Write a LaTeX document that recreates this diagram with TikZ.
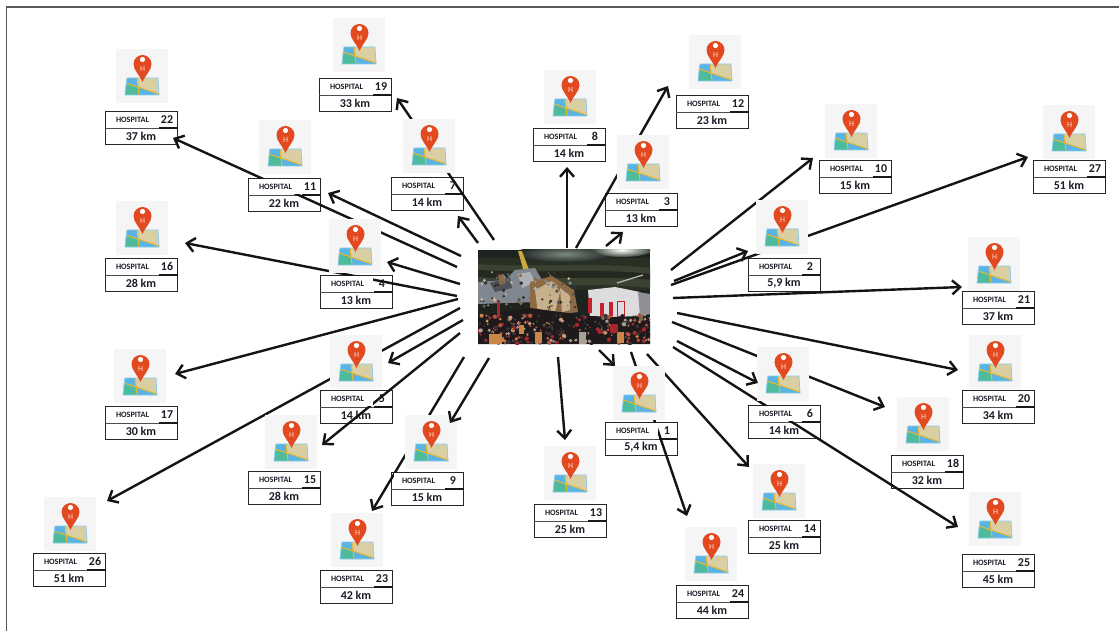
\documentclass[tikz,border=0pt]{standalone}
\usepackage{fontspec}
\setmainfont{Carlito}
\usetikzlibrary{arrows.meta}
\pgfdeclarelayer{cardlayer}
\pgfdeclarelayer{linklayer}
\pgfdeclarelayer{toplayer}
\pgfsetlayers{cardlayer,linklayer,main,toplayer}
\definecolor{iconbg}{HTML}{F5F5F5}
\definecolor{pinred}{HTML}{E2491F}
\definecolor{mapblue}{HTML}{58B4E4}
\definecolor{maptan}{HTML}{D9CFA3}
\definecolor{mapgreen}{HTML}{4DBB9C}
\definecolor{maproad}{HTML}{EDB62E}
\definecolor{ink}{HTML}{1C1C28}
\definecolor{skyA}{HTML}{1E2320}
\definecolor{skyB}{HTML}{39443A}
\definecolor{skyC}{HTML}{7C8A80}
\definecolor{hillA}{HTML}{2A2F24}
\definecolor{hillB}{HTML}{3C4230}
\definecolor{hillC}{HTML}{24281F}
\definecolor{wreckA}{HTML}{7F8791}
\definecolor{wreckB}{HTML}{4E5257}
\definecolor{wreckC}{HTML}{AEB2B4}
\definecolor{wreckD}{HTML}{8B6A45}
\definecolor{wreckE}{HTML}{C7B08C}
\definecolor{wreckF}{HTML}{3A2F26}
\definecolor{fuse}{HTML}{DCDBDD}
\definecolor{fuseshade}{HTML}{8E9094}
\definecolor{fusered}{HTML}{C3242C}
\definecolor{tailyellow}{HTML}{C9A93A}
\pgfmathdeclarerandomlist{crowdcol}{{crowdA}{crowdB}{crowdC}{crowdD}{crowdE}{crowdF}{crowdG}{crowdH}{crowdH}{crowdG}{crowdG}{crowdH}{crowdA}{crowdC}}
\pgfmathdeclarerandomlist{wreckcol}{{wreckA}{wreckB}{wreckC}{wreckD}{wreckE}{wreckF}{wreckF}}
\definecolor{crowdA}{HTML}{B5543A}
\definecolor{crowdB}{HTML}{C98648}
\definecolor{crowdC}{HTML}{A32830}
\definecolor{crowdD}{HTML}{A8A196}
\definecolor{crowdE}{HTML}{7C6654}
\definecolor{crowdF}{HTML}{C99C7C}
\definecolor{crowdG}{HTML}{1E1A1C}
\definecolor{crowdH}{HTML}{3A3234}
\tikzset{
  x=1pt,y=-1pt,
  iconbox/.style={fill=iconbg,draw=none,minimum width=52pt,minimum height=54pt,inner sep=0pt},
  cardbox/.style={draw=black!85,line width=1.2pt,fill=white,minimum width=72pt,minimum height=33pt,inner sep=0pt,anchor=north west},
  hcell/.style={fill=white,draw=none,minimum width=50pt,minimum height=14.5pt,inner sep=0pt,font=\bfseries\fontsize{8.2}{9}\selectfont,text=ink},
  numcell/.style={inner sep=0pt,font=\bfseries\fontsize{12}{13}\selectfont,text=ink},
  kmcell/.style={inner sep=0pt,font=\bfseries\fontsize{12}{13}\selectfont,text=ink},
  pinletter/.style={inner sep=0pt,text=white!80!pinred,font=\fontsize{8}{8}\selectfont},
  photobox/.style={draw=none,fill=skyA,minimum width=172pt,minimum height=94pt,inner sep=0pt},
  arrowlink/.style={draw=black!92,line width=2.4pt,-{Straight Barb[length=8pt,width=14pt,line width=2.4pt]}},
  framerule/.style={draw=black!65,line width=1.3pt}
}
\newcommand{\hospcard}[7]{%
  \begin{pgfonlayer}{cardlayer}
    \node[cardbox] (card#1) at (#2,#3) {};
    \draw[line width=1pt,draw=black!70] (card#1.west) -- (card#1.east);
    \draw[line width=1.4pt,draw=black!90] ([shift={(54,0)}]card#1.west) -- (card#1.east);
    \node[numcell] (num#1) at ([shift={(62,8.5)}]card#1.north west) {#6};
    \node[kmcell] (km#1) at ([shift={(36,25)}]card#1.north west) {#7};
  \end{pgfonlayer}
  \node[hcell] (hosp#1) at ([shift={(27.5,8.5)}]card#1.north west) {HOSPITAL};
  \node[iconbox] (ic#1) at (#4,#5) {};
  \begin{scope}[shift={(#4,#5)}]
    \fill[maptan] (-5,2) -- (16,2) -- (17,18) -- (-3.5,11) -- cycle;
    \fill[mapblue] (-15,2) -- (-5,2) -- (-3.5,11) -- (-16,7) -- cycle;
    \fill[mapgreen] (-16,7) -- (-3.5,11) -- (-3,19) -- (-17,19) -- cycle;
    \fill[mapblue] (-3.5,11) -- (17,18) -- (17,19) -- (-3,19) -- cycle;
    \draw[maproad,line width=1pt] (-16,7) -- (17,18) (-5,2) -- (-3,19);
    \draw[mapblue!70!white,line width=.8pt] (-15,2) -- (16,2) -- (17,19) -- (-17,19) -- cycle;
    \fill[pinred] (0.5,6) .. controls (-3,-2) and (-8.5,-6) .. (-8.5,-12)
      .. controls (-8.5,-17) and (-4.5,-21) .. (0.5,-21)
      .. controls (5.5,-21) and (9.5,-17) .. (9.5,-12)
      .. controls (9.5,-6) and (4,-2) .. (0.5,6) -- cycle;
    \fill[white] (0.5,-16.5) circle (2.6);
    \node[pinletter] (pinH#1) at (0.5,-7) {H};
  \end{scope}
}
\newcommand{\photoscene}{%
  \begin{scope}
    \clip (img.north west) rectangle (img.south east);
    \fill[skyA] (478,250) rectangle (650,344);
    % hills
    \fill[hillA] (478,258) rectangle (650,290);
    \fill[hillB] (478,264) .. controls (530,268) and (600,262) .. (650,268) -- (650,274) .. controls (600,268) and (530,274) .. (478,270) -- cycle;
    \fill[hillC] (478,270) .. controls (530,274) and (600,268) .. (650,274) -- (650,280) .. controls (600,275) and (530,281) .. (478,277) -- cycle;
    \fill[hillB] (478,277) .. controls (530,281) and (600,275) .. (650,280) -- (650,288) .. controls (600,282) and (530,288) .. (478,284) -- cycle;
    % sky glow
    \shade[inner color=skyC,outer color=skyA] (565,254) ellipse (50 and 9);
    \shade[inner color=white,outer color=skyB] (622,250) ellipse (30 and 7);
    % tail
    \fill[tailyellow] (518,251) -- (522,251) -- (529,270) -- (524,272) -- cycle;
    % grey wreck
    \fill[wreckA] (478,282) -- (505,280) -- (515,270) -- (535,268) -- (542,280) -- (538,302) -- (478,304) -- cycle;
    \fill[wreckB] (490,283) -- (510,277) -- (512,288) -- (495,292) -- cycle;
    \fill[wreckC] (518,274) -- (530,272) -- (535,282) -- (522,288) -- cycle;
    \fill[wreckD] (498,275) -- (504,274) -- (506,283) -- (500,285) -- cycle;
    % tan tangle
    \fill[wreckD] (530,282) -- (552,276) -- (574,290) -- (578,312) -- (530,318) -- cycle;
    \fill[wreckE] (535,290) -- (552,281) -- (560,292) -- (555,312) -- (538,314) -- cycle;
    \fill[wreckE] (560,288) -- (570,296) -- (570,310) -- (562,312) -- cycle;
    \pgfmathsetseed{99}
    \foreach \k in {1,...,90}{
      \pgfmathsetmacro{\px}{480+96*rnd}
      \pgfmathsetmacro{\py}{272+38*rnd}
      \pgfmathsetmacro{\pr}{0.6+1.4*rnd}
      \pgfmathrandomitem{\pc}{wreckcol}
      \fill[\pc] (\px,\py) circle (\pr);
    }
    % white fuselage
    \fill[fuse] (588,290) -- (615,287) -- (640,292) -- (642,308) -- (638,316) -- (590,318) -- cycle;
    \fill[fuseshade] (638,292) -- (650,294) -- (650,314) -- (640,316) -- cycle;
    \draw[wreckC,line width=1.3pt] (617,283) -- (643,275);
    \fill[fusered] (588,298) rectangle (592,313);
    \fill[fusered] (600,303) rectangle (604,317);
    \fill[fusered] (609,302) rectangle (613,316);
    \draw[fusered,line width=.9pt] (617,301) rectangle (624,316);
    % crowd
    \fill[crowdG] (478,316) -- (530,308) -- (590,316) -- (650,318) -- (650,344) -- (478,344) -- cycle;
    \pgfmathsetseed{4242}
    \foreach \k in {1,...,320}{
      \pgfmathsetmacro{\px}{478+172*rnd}
      \pgfmathsetmacro{\py}{315+29*rnd}
      \pgfmathsetmacro{\pr}{0.8+1.5*rnd}
      \pgfmathrandomitem{\pc}{crowdcol}
      \fill[\pc] (\px,\py) circle (\pr);
    }
    \fill[crowdB] (489,334) rectangle (502,344);
    \fill[crowdC] (497,300) rectangle (500,316);
    \fill[crowdB] (519,325) rectangle (524,334);
    \fill[crowdB] (535,332) rectangle (542,343);
    \fill[crowdD] (579,332) rectangle (586,344);
    \fill[crowdB] (617,332) rectangle (624,343);
    \fill[crowdC] (610,324) rectangle (618,333);
  \end{scope}
}
\newcommand{\hosplink}[6][linklayer]{%
  \begin{pgfonlayer}{#1}
    \draw[arrowlink] ([shift={(#3,#4)}]img.center) -- ([shift={(#5,#6)}]ic#2.center);
  \end{pgfonlayer}
}
\begin{document}
\begin{tikzpicture}
  \useasboundingbox (0,0) rectangle (1119,631);
  \begin{pgfonlayer}{cardlayer}
    \fill[white] (0,0) rectangle (1119,631);
  \end{pgfonlayer}
  \coordinate (frameA) at (6.5,631);
  \coordinate (frameB) at (6.5,7);
  \coordinate (frameC) at (1119,7);
  \draw[framerule] (frameA) -- (frameB) -- (frameC);
  \node[photobox] (img) at (564,297) {};
  \photoscene
  \hospcard{1}{605}{422}{639}{393}{1}{5,4 km}
  \hospcard{2}{748}{258}{782}{227}{2}{5,9 km}
  \hospcard{3}{605}{193}{643}{162}{3}{13 km}
  \hospcard{4}{320}{275}{355}{246}{4}{13 km}
  \hospcard{5}{320}{390}{356}{362}{5}{14 km}
  \hospcard{6}{748}{405}{783}{374}{6}{14 km}
  \hospcard{7}{391}{177}{429}{146}{7}{14 km}
  \hospcard{8}{533}{128}{570}{97}{8}{14 km}
  \hospcard{9}{391}{472}{431}{442}{9}{15 km}
  \hospcard{10}{819}{160}{851}{131}{10}{15 km}
  \hospcard{11}{248}{178}{285}{147}{11}{22 km}
  \hospcard{12}{676}{95}{715}{62}{12}{23 km}
  \hospcard{13}{534}{504}{570}{473}{13}{25 km}
  \hospcard{14}{748}{520}{779}{491}{14}{25 km}
  \hospcard{15}{248}{471}{291}{442}{15}{28 km}
  \hospcard{16}{105}{258}{142}{228}{16}{28 km}
  \hospcard{17}{105}{406}{140}{376}{17}{30 km}
  \hospcard{18}{891}{455}{923}{424}{18}{32 km}
  \hospcard{19}{319}{78}{359}{45}{19}{33 km}
  \hospcard{20}{962}{390}{995}{362}{20}{34 km}
  \hospcard{21}{962}{291}{994}{264}{21}{37 km}
  \hospcard{22}{105}{111}{142}{76}{22}{37 km}
  \hospcard{23}{320}{570}{357}{540}{23}{42 km}
  \hospcard{24}{676}{585}{711}{554}{24}{44 km}
  \hospcard{25}{962}{554}{995}{519}{25}{45 km}
  \hospcard{26}{33}{553}{70}{524}{26}{51 km}
  \hospcard{27}{1033}{160}{1069}{132}{27}{51 km}
  \hosplink[toplayer]{1}{35}{53}{-24}{-27}
  \hosplink{2}{110}{-16}{-34}{24}
  \hosplink{3}{42}{-51}{-20}{70}
  \hosplink{4}{-104}{-13}{32}{16}
  \hosplink{5}{-101}{23}{32}{1}
  \hosplink[toplayer]{6}{113}{44}{-25}{9}
  \hosplink{7}{-86}{-54}{29}{70}
  \hosplink{8}{3}{-49}{-3}{70}
  \hosplink[toplayer]{9}{-75}{61}{19}{-19}
  \hosplink{10}{107}{-27}{-38}{27}
  \hosplink{11}{-103}{-41}{43}{46}
  \hosplink{12}{12}{-49}{-47}{24}
  \hosplink{13}{-6}{60}{-5}{-33}
  \hosplink{14}{83}{57}{-30}{-24}
  \hosplink{15}{-104}{36}{31}{3}
  \hosplink{16}{-107}{-1}{43}{15}
  \hosplink{17}{-106}{2}{35}{-2}
  \hosplink{18}{108}{25}{-38}{-17}
  \hosplink{19}{-70}{-57}{38}{53}
  \hosplink{20}{113}{16}{-37}{8}
  \hosplink{21}{109}{1}{-32}{23}
  \hosplink{22}{-107}{-30}{31}{62}
  \hosplink{23}{-100}{60}{15}{-29}
  \hosplink{24}{67}{55}{-24}{-38}
  \hosplink{25}{109}{50}{-37}{8}
  \hosplink{26}{-104}{11}{37}{-23}
  \hosplink{27}{107}{-12}{-41}{25}
\end{tikzpicture}
\end{document}
